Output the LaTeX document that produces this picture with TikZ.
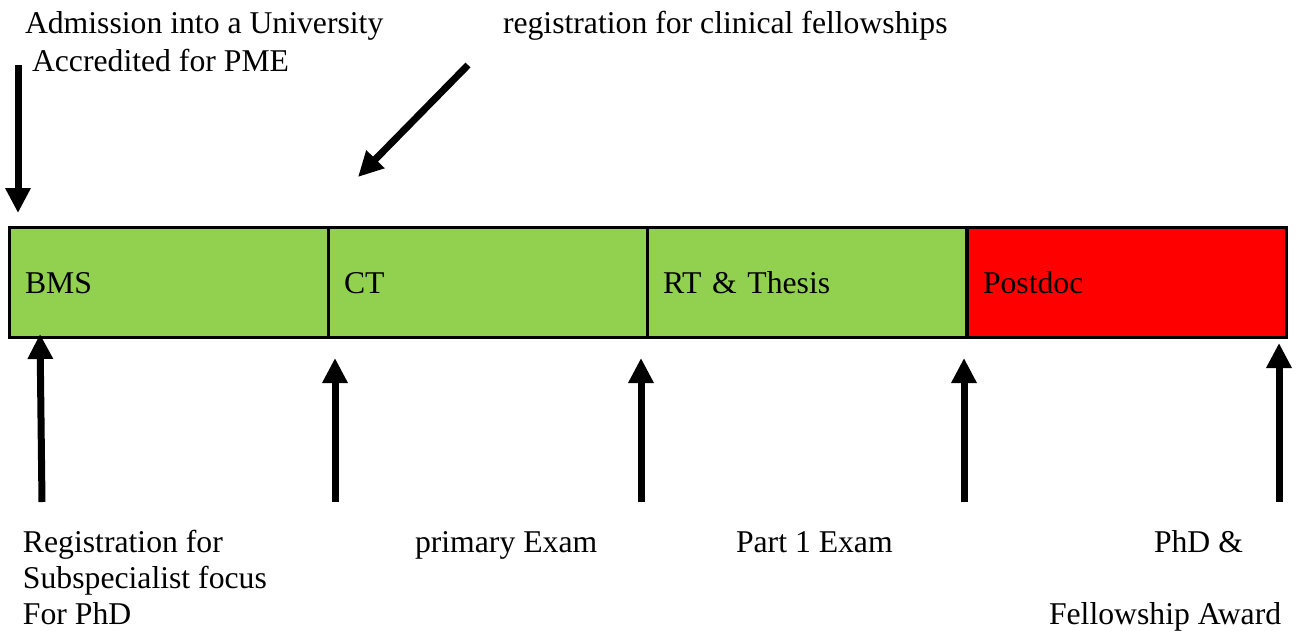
\documentclass[tikz,border=0pt]{standalone}
\usepackage{fontspec}
\setmainfont{Liberation Serif}
\usetikzlibrary{arrows.meta}
\definecolor{barGreen}{HTML}{92D050}
\definecolor{barRed}{HTML}{FF0000}
\begin{document}
\begin{tikzpicture}[x=1pt,y=-1pt,
  txt/.style={font=\fontsize{31.7}{36}\selectfont, inner sep=0pt, outer sep=0pt, anchor=base west},
  seg/.style={draw=black, line width=3pt, rectangle, anchor=west, outer sep=0pt,
    inner xsep=16pt, inner ysep=0pt, minimum height=110pt, text width=287pt, align=left,
    text height=22pt, text depth=0pt, font=\fontsize{31.7}{36}\selectfont},
  bigarrow/.style={line width=7pt, -{Triangle[width=24pt,length=25pt]}}]
\useasboundingbox (0,0) rectangle (1296,630);
\fill[white] (0,0) rectangle (1296,630);

% bar segments
\node[seg, fill=barGreen] (bms) at (9,282) {BMS};
\node[seg, fill=barGreen] (ct) at (328,282) {CT};
\node[seg, fill=barGreen] (rt) at (647,282) {RT \& Thesis};
\node[seg, fill=barRed] (pd) at (967,282) {Postdoc};

% top labels
\node[txt] (adm1) at (25,33) {Admission into a University};
\node[txt] (adm2) at (32,71) {Accredited for PME};
\node[txt] (reg) at (503,33) {registration for clinical fellowships};

% bottom labels
\node[txt] (sub1) at (23,552) {Registration for};
\node[txt] (sub2) at (23,588) {Subspecialist focus};
\node[txt] (sub3) at (23,624) {For PhD};
\node[txt] (prim) at (415,552) {primary Exam};
\node[txt] (part) at (736,552) {Part 1 Exam};
\node[txt] (phd) at (1154,552) {PhD \&};
\node[txt] (fel) at (1049,624) {Fellowship Award};

% arrow coordinates
\coordinate (t1s) at (18,65);   \coordinate (t1e) at (18,213);
\coordinate (t2s) at (468,65);  \coordinate (t2e) at (358,177);
\coordinate (b1s) at (42,502);  \coordinate (b1e) at (40,334);
\coordinate (b2s) at (335,502); \coordinate (b2e) at (335,358);
\coordinate (b3s) at (641,502); \coordinate (b3e) at (641,358);
\coordinate (b4s) at (964,502); \coordinate (b4e) at (964,358);
\coordinate (b5s) at (1279,502);\coordinate (b5e) at (1279,343);

\draw[bigarrow] (t1s) -- (t1e);
\draw[bigarrow] (t2s) -- (t2e);
\draw[bigarrow] (b1s) -- (b1e);
\draw[bigarrow] (b2s) -- (b2e);
\draw[bigarrow] (b3s) -- (b3e);
\draw[bigarrow] (b4s) -- (b4e);
\draw[bigarrow] (b5s) -- (b5e);
\end{tikzpicture}
\end{document}
